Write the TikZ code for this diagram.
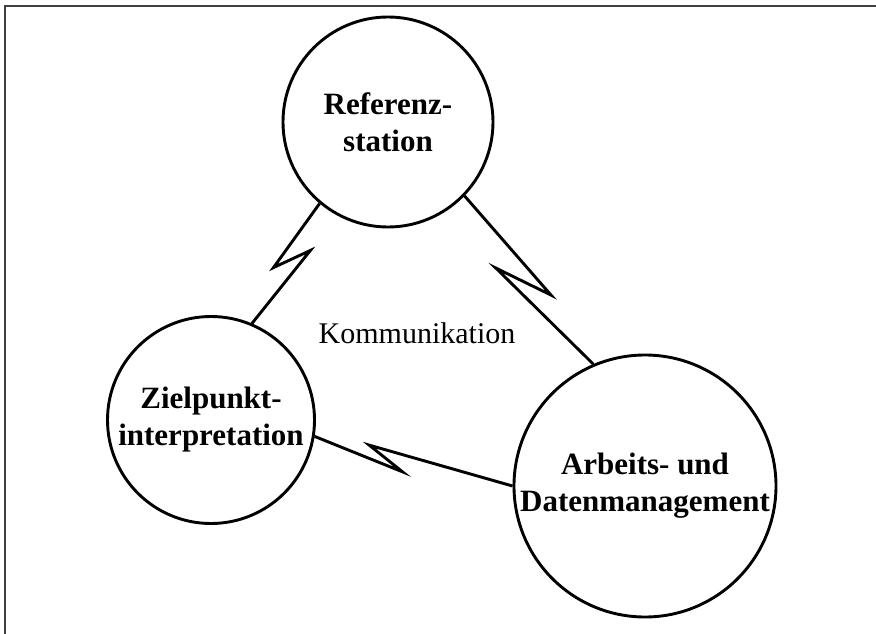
\documentclass[tikz,border=0pt]{standalone}
\usepackage{fontspec}
\setmainfont{Liberation Serif}
\usepackage{tikz}
\usetikzlibrary{calc}

\begin{document}
\begin{tikzpicture}[x=1pt,y=-1pt,
  kreis/.style={circle,draw,line width=2.9pt,inner sep=0pt,align=center,
    font=\fontsize{31}{37}\selectfont\bfseries},
  funk/.style={line width=2.9pt}]
\useasboundingbox (0,0) rectangle (876,634);
% Rahmen, nur oben und links sichtbar
\draw[line width=1.8pt,black!75] (5,634) -- (5,6) -- (876,6);
\node[kreis,minimum size=210pt] (ref) at (388,122) {Referenz-\\station};
\node[kreis,minimum size=207pt] (ziel) at (211,420) {Zielpunkt-\\interpretation};
\node[kreis,minimum size=262pt] (arb) at (645,486) {Arbeits- und\\Datenmanagement};
\node[font=\fontsize{30}{36}\selectfont] (komm) at (417,333) {Kommunikation};
% Blitze
\draw[funk] (ref.230) -- ($(ref.230)!0.57!(ziel.67)!8.7pt!-90:(ziel.67)$)
  -- ($(ref.230)!0.33!(ziel.67)!15pt!90:(ziel.67)$) -- (ziel.67);
\draw[funk] (ref.316) -- ($(ref.316)!0.62!(arb.113)!8.4pt!90:(arb.113)$)
  -- ($(ref.316)!0.36!(arb.113)!19pt!-90:(arb.113)$) -- (arb.113);
\draw[funk] (ziel.351) -- ($(ziel.351)!0.46!(arb.180)!13pt!-90:(arb.180)$)
  -- ($(ziel.351)!0.27!(arb.180)!4.8pt!90:(arb.180)$) -- (arb.180);
\end{tikzpicture}
\end{document}
